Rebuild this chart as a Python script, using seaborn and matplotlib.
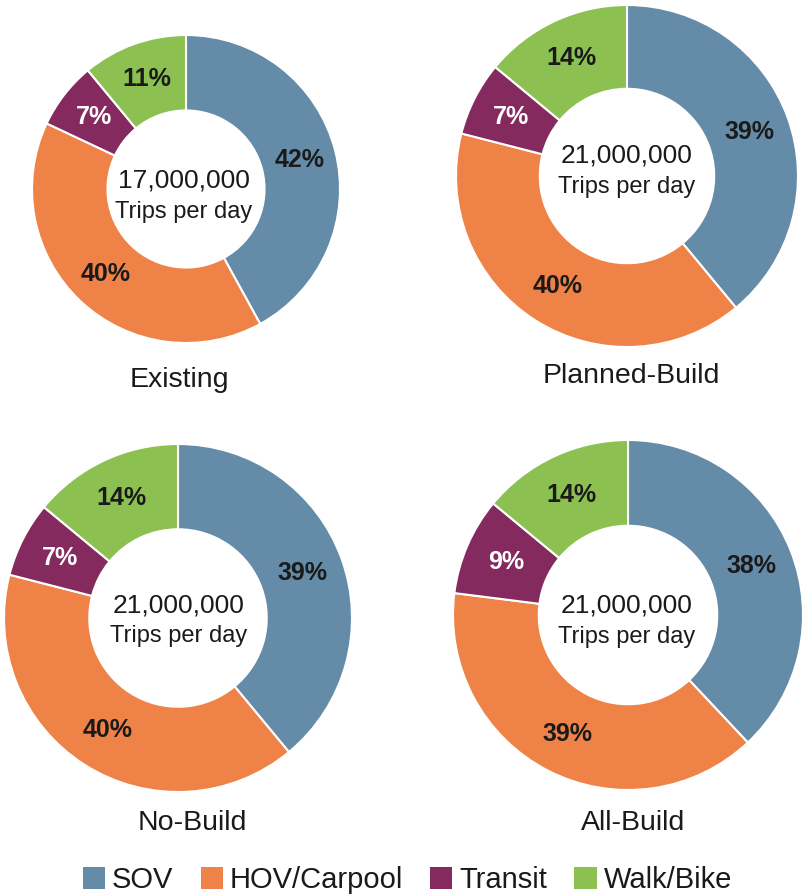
import matplotlib
matplotlib.use("Agg")
import matplotlib.pyplot as plt
import seaborn as sns
from matplotlib.patches import Patch

sns.set_theme(style="white")
plt.rcParams['font.family'] = ['Liberation Sans', 'DejaVu Sans']

# ---- data ----
modes = ["SOV", "HOV/Carpool", "Transit", "Walk/Bike"]
scenarios = ["Existing", "Planned-Build", "No-Build", "All-Build"]
existing = [42, 40, 7, 11]
planned_build = [39, 40, 7, 14]
no_build = [39, 40, 7, 14]
all_build = [38, 39, 9, 14]
trip_totals = ["17,000,000", "21,000,000", "21,000,000", "21,000,000"]
trips_label = "Trips per day"
colors = ["#648ca8", "#ef8246", "#842a5e", "#8cc152"]
label_colors = ["#1a1a1a", "#1a1a1a", "#ffffff", "#1a1a1a"]

series = [existing, planned_build, no_build, all_build]

# ---- layout (pixels) ----
W, H = 802, 896
# (cx, cy, r, text_x, num_baseline, trips_baseline, title_x, title_baseline)
layout = [
    (186, 189, 154, 184, 187, 218, 179, 387),
    (627, 176, 171, 627, 163, 193, 631, 383),
    (178, 618, 174, 179, 612, 642, 192, 830),
    (628, 615, 175, 627, 612, 643, 633, 830),
]

fig = plt.figure(figsize=(W / 100, H / 100), dpi=100)
fig.patch.set_facecolor("white")

for vals, name, total, (cx, cy, r, tx, nb, tb, ttx, ttb) in zip(series, scenarios, trip_totals, layout):
    ax = fig.add_axes([(cx - r) / W, 1 - (cy + r) / H, 2 * r / W, 2 * r / H])
    wedges, texts, autotexts = ax.pie(
        vals, colors=colors, startangle=90, counterclock=False,
        radius=1.0, autopct=lambda p: f"{p:.0f}%", pctdistance=0.76,
        wedgeprops=dict(width=0.49, edgecolor="white", linewidth=1.5),
        textprops=dict(fontsize=18, fontweight="bold"),
    )
    for w in wedges:
        w.set_clip_on(False)
    for t, c in zip(autotexts, label_colors):
        t.set_color(c)
    ax.set_xlim(-1, 1)
    ax.set_ylim(-1, 1)
    ax.set_aspect("equal", adjustable="box")
    ax.axis("off")

    fig.text(tx / W, 1 - nb / H, total, ha="center", va="baseline", fontsize=19, color="#1a1a1a")
    fig.text(tx / W, 1 - tb / H, trips_label, ha="center", va="baseline", fontsize=17, color="#1a1a1a")
    fig.text(ttx / W, 1 - ttb / H, name, ha="center", va="baseline", fontsize=20.5, color="#1a1a1a")

handles = [Patch(facecolor=c, edgecolor="none", label=m) for c, m in zip(colors, modes)]
fig.legend(handles=handles, loc="center", bbox_to_anchor=(0.508, 1 - 880 / H), ncol=4,
           frameon=False, fontsize=21, handlelength=0.76, handleheight=0.76,
           handletextpad=0.24, columnspacing=0.93, borderpad=0,
           labelcolor="#1a1a1a")

fig.savefig("out.png", dpi=100, facecolor="white")
